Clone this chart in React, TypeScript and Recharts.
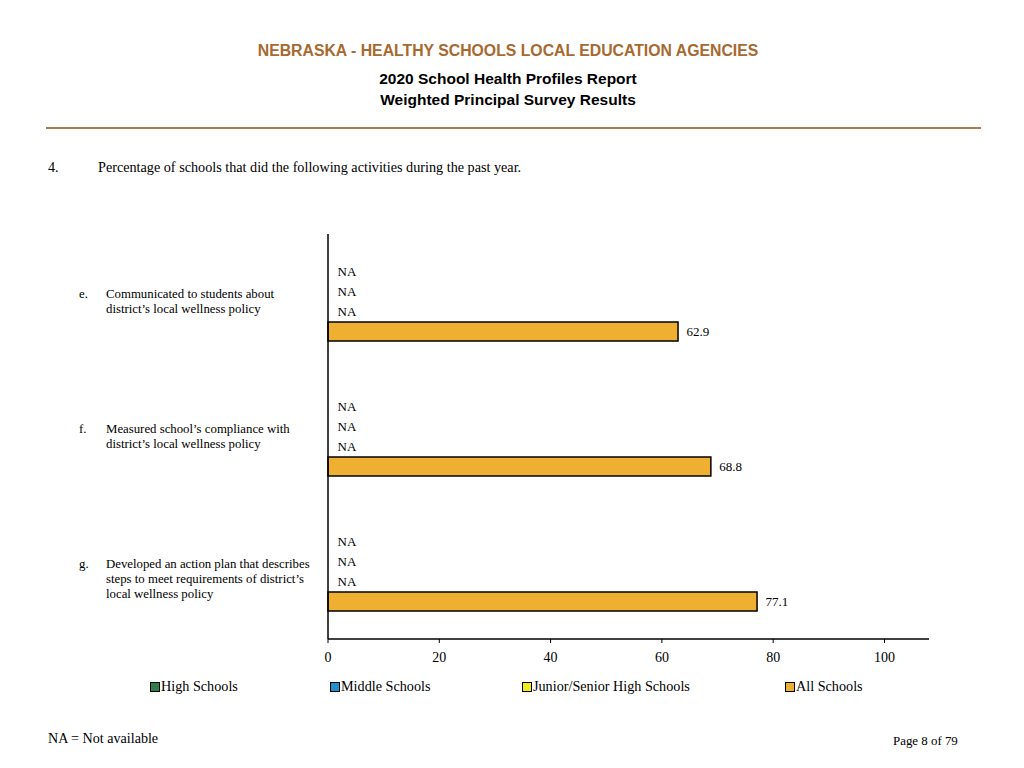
import { BarChart, Bar, XAxis, YAxis, LabelList, Cell } from "recharts";

const categories = ["e", "f", "g"];
const categoryText = [
  ["Communicated to students about", "district\u2019s local wellness policy"],
  ["Measured school\u2019s compliance with", "district\u2019s local wellness policy"],
  ["Developed an action plan that describes", "steps to meet requirements of district\u2019s", "local wellness policy"],
];
const highSchools: (number | null)[] = [null, null, null];
const middleSchools: (number | null)[] = [null, null, null];
const juniorSeniorHigh: (number | null)[] = [null, null, null];
const allSchools: (number | null)[] = [62.9, 68.8, 77.1];
const xTicks = [0, 20, 40, 60, 80, 100];

const series = [
  { key: "hs", name: "High Schools", values: highSchools, color: "#2f7d4a" },
  { key: "ms", name: "Middle Schools", values: middleSchools, color: "#1f8fd0" },
  { key: "js", name: "Junior/Senior High Schools", values: juniorSeniorHigh, color: "#f3ea1c" },
  { key: "all", name: "All Schools", values: allSchools, color: "#efb031" },
];

const data = categories.map((c, i) => {
  const row: Record<string, string | number> = { cat: c };
  series.forEach((s) => {
    const v = s.values[i];
    row[s.key] = v ?? 0;
    row[s.key + "Label"] = v == null ? "NA" : v.toFixed(1);
  });
  return row;
});

const serif = "'Liberation Serif', 'Times New Roman', serif";
const sans = "'Liberation Sans', Arial, sans-serif";

function CategoryTick(props: any) {
  const { y, payload } = props;
  const idx = categories.indexOf(payload.value);
  const lines = categoryText[idx] || [];
  return (
    <g fontFamily={serif} fontSize={12.8} fill="#000">
      <text x={79} y={y - 8} dominantBaseline="central">{payload.value}.</text>
      {lines.map((l, i) => (
        <text key={i} x={106} y={y - 8 + i * 15} dominantBaseline="central">{l}</text>
      ))}
    </g>
  );
}

function ValueLabel(props: any) {
  const { x, y, width, height, value } = props;
  return (
    <text x={x + width + 8.5} y={y + height / 2} dominantBaseline="central" fontFamily={serif} fontSize={13} fill="#000">
      {value}
    </text>
  );
}

export default function App() {
  return (
    <div style={{ position: "absolute", left: 0, top: 0, width: 1024, height: 768, background: "#fff", fontFamily: serif }}>
      <div style={{ position: "absolute", left: 0, width: 1016, top: 42, textAlign: "center", fontFamily: sans, fontWeight: "bold", fontSize: 15.8, color: "#a7692f" }}>
        NEBRASKA - HEALTHY SCHOOLS LOCAL EDUCATION AGENCIES
      </div>
      <div style={{ position: "absolute", left: 0, width: 1016, top: 68, textAlign: "center", fontFamily: sans, fontWeight: "bold", fontSize: 15.5, color: "#000", lineHeight: "21px" }}>
        2020 School Health Profiles Report
        <br />
        Weighted Principal Survey Results
      </div>
      <div style={{ position: "absolute", left: 46, top: 127, width: 935, height: 2, background: "#a8794a" }} />
      <div style={{ position: "absolute", left: 48, top: 159, fontSize: 14.2 }}>4.</div>
      <div style={{ position: "absolute", left: 98, top: 159, fontSize: 14.2 }}>
        Percentage of schools that did the following activities during the past year.
      </div>

      <div style={{ position: "absolute", left: 0, top: 200 }}>
        <BarChart
          width={1024}
          height={480}
          data={data}
          layout="vertical"
          margin={{ top: 34, right: 95, bottom: 11, left: 0 }}
          barSize={19}
          barGap={1}
        >
          <XAxis
            type="number"
            domain={[0, 108]}
            ticks={xTicks}
            height={30}
            axisLine={{ stroke: "#000", strokeWidth: 1.5 }}
            tickLine={{ stroke: "#000" }}
            tickSize={4}
            tickMargin={9}
            tick={{ fill: "#000", fontFamily: serif, fontSize: 14 }}
          />
          <YAxis
            type="category"
            dataKey="cat"
            width={328}
            axisLine={{ stroke: "#000", strokeWidth: 1.5 }}
            tickLine={false}
            tick={<CategoryTick />}
          />
          {series.map((s) => (
            <Bar key={s.key} dataKey={s.key} name={s.name} fill={s.color} stroke="#000" strokeWidth={1.5} minPointSize={1} isAnimationActive={false}>
              {s.values.map((v, i) => (
                <Cell key={i} fill={v == null ? "none" : s.color} stroke={v == null ? "none" : "#000"} />
              ))}
              <LabelList dataKey={s.key + "Label"} content={<ValueLabel />} />
            </Bar>
          ))}
        </BarChart>
      </div>

      {series.map((s, i) => (
        <div
          key={s.key}
          style={{ position: "absolute", left: [150, 330, 522, 785][i], top: 678, fontSize: 14.2, display: "flex", alignItems: "center", whiteSpace: "nowrap" }}
        >
          <span style={{ display: "inline-block", width: 8, height: 8, background: s.color, border: "1px solid #000", marginRight: 1 }} />
          {s.name}
        </div>
      ))}

      <div style={{ position: "absolute", left: 48, top: 730, fontSize: 14.1 }}>NA = Not available</div>
      <div style={{ position: "absolute", left: 893, top: 734, fontSize: 12.9 }}>Page 8 of 79</div>
    </div>
  );
}
